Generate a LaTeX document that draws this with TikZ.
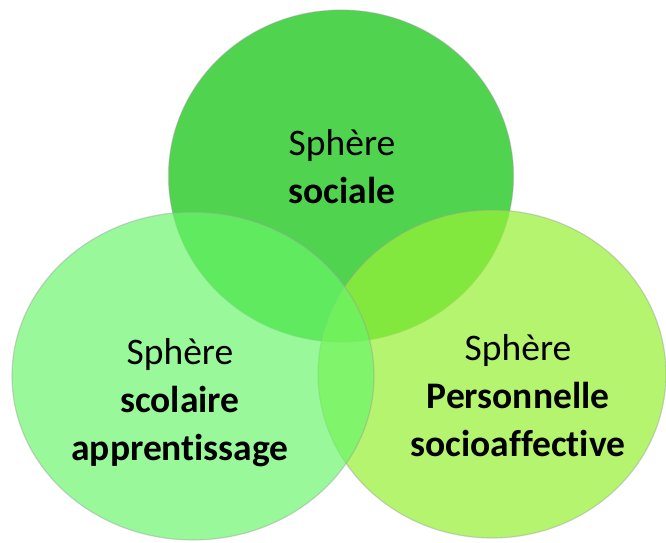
\documentclass[tikz,border=0pt]{standalone}
\usepackage{fontspec}
\setmainfont{Carlito}[Ligatures=NoCommon]
\usepackage{tikz}
\usetikzlibrary{shapes.geometric}
\definecolor{socgreen}{RGB}{80,212,80}
\definecolor{scolgreen}{RGB}{104,245,104}
\definecolor{persgreen}{RGB}{151,240,54}

\begin{document}
\begin{tikzpicture}[x=1pt,y=1pt,
    sphere/.style={ellipse,inner sep=0pt,draw=black!40,draw opacity=0.4,line width=1.2pt},
    label/.style={align=center,font=\fontsize{37.5}{48}\selectfont}]
    \useasboundingbox (0,0) rectangle (666,542);

    % Spheres
    \node[sphere,fill=socgreen,minimum width=345pt,minimum height=332pt] (sociale) at (341,366) {};
    \node[sphere,fill=persgreen,fill opacity=0.72,minimum width=348pt,minimum height=328pt] (perso) at (492,168) {};
    \node[sphere,fill=scolgreen,fill opacity=0.68,minimum width=362pt,minimum height=328pt] (scol) at (193,166) {};

    % Labels
    \node[label] (lsociale) at (342,375.5) {Sphère\\\textbf{sociale}};
    \node[label] (lscol) at (180,139) {Sphère\\\textbf{scolaire}\\\textbf{apprentissage}};
    \node[label] (lperso) at (518,146) {Sphère\\\textbf{Personnelle}\\\textbf{socioaffective}};
\end{tikzpicture}
\end{document}
